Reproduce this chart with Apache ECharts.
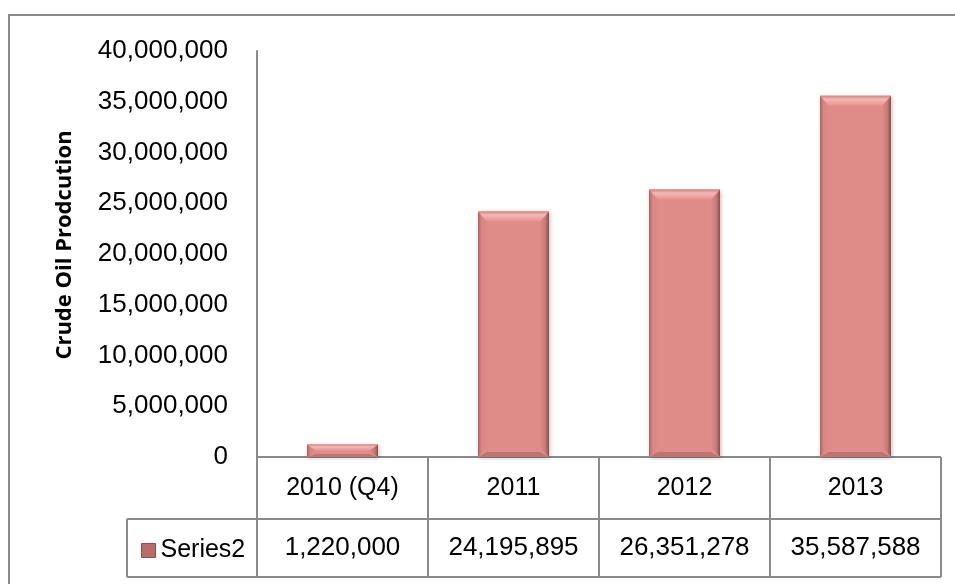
<!DOCTYPE html>
<html>
<head>
<meta charset="utf-8">
<script src="https://cdn.jsdelivr.net/npm/echarts@6/dist/echarts.min.js"></script>
<style>
  html, body { margin: 0; padding: 0; background: #fff; }
  #chart { width: 955px; height: 584px; }
</style>
</head>
<body>
<div id="chart"></div>
<script>
const categories = ['2010 (Q4)', '2011', '2012', '2013']
const production = [1220000, 24195895, 26351278, 35587588]
const seriesName = 'Series2'
const axisTitle = 'Crude Oil Prodcution'
const yTicks = { min: 0, max: 40000000, interval: 5000000 }

// layout (pixels)
const G = { left: 257, top: 51, width: 684, height: 406 }
const rowCat = 62
const rowVal = 58
const legendCellLeft = 127
const lineColor = '#8a8a8a'
const font = '"Liberation Sans", Arial, sans-serif'

function fmt(v) {
  return Math.round(v).toLocaleString('en-US')
}

const chart = echarts.init(document.getElementById('chart'), null, { renderer: 'canvas' })

function renderBar(params, api) {
  const idx = api.value(0)
  const top = api.coord([idx, api.value(1)])
  const base = api.coord([idx, 0])
  const w = api.size([1, 0])[0] * 0.415
  const x0 = top[0] - w / 2
  const x1 = x0 + w
  const y0 = top[1]
  const y1 = base[1]
  const h = y1 - y0
  const b = Math.min(10, h / 2)
  const s = Math.min(9, w / 4)
  return {
    type: 'group',
    children: [
      {
        type: 'rect',
        shape: { x: x0, y: y0, width: w, height: h },
        style: {
          fill: '#df8b88',
          shadowBlur: 4,
          shadowColor: 'rgba(0,0,0,0.25)',
          shadowOffsetX: 1,
          shadowOffsetY: 1
        }
      },
      {
        type: 'polygon',
        shape: { points: [[x0, y0], [x0 + s, y0 + b], [x0 + s, y1 - b], [x0, y1]] },
        style: {
          fill: new echarts.graphic.LinearGradient(0, 0, 1, 0, [
            { offset: 0, color: '#a86462' },
            { offset: 0.4, color: '#d98784' },
            { offset: 1, color: '#df8b88' }
          ])
        }
      },
      {
        type: 'polygon',
        shape: { points: [[x1, y0], [x1 - s, y0 + b], [x1 - s, y1 - b], [x1, y1]] },
        style: {
          fill: new echarts.graphic.LinearGradient(0, 0, 1, 0, [
            { offset: 0, color: '#df8b88' },
            { offset: 0.6, color: '#c77a77' },
            { offset: 1, color: '#8a4d4c' }
          ])
        }
      },
      {
        type: 'polygon',
        shape: { points: [[x0, y0], [x1, y0], [x1 - s, y0 + b], [x0 + s, y0 + b]] },
        style: {
          fill: new echarts.graphic.LinearGradient(0, 0, 0, 1, [
            { offset: 0, color: '#c98683' },
            { offset: 0.35, color: '#f4b8b4' },
            { offset: 1, color: '#e6938f' }
          ])
        }
      },
      {
        type: 'polygon',
        shape: { points: [[x0, y1], [x1, y1], [x1 - s, y1 - b / 2], [x0 + s, y1 - b / 2]] },
        style: { fill: 'rgba(140,70,68,0.35)' }
      }
    ]
  }
}

const tableBottom = G.top + G.height + rowCat + rowVal
const rowY = G.top + G.height + rowCat
const right = G.left + G.width
const colW = G.width / categories.length

const tableLines = []
// horizontal lines
tableLines.push([[G.left, G.top + G.height], [right, G.top + G.height]])
tableLines.push([[legendCellLeft, rowY], [right, rowY]])
tableLines.push([[legendCellLeft, tableBottom], [right, tableBottom]])
// vertical lines
for (let i = 0; i <= categories.length; i++) {
  const x = G.left + i * colW
  tableLines.push([[x, G.top + G.height], [x, tableBottom]])
}
tableLines.push([[legendCellLeft, rowY], [legendCellLeft, tableBottom]])

chart.setOption({
  animation: false,
  backgroundColor: '#fff',
  textStyle: { fontFamily: font, color: '#000' },
  grid: { left: G.left, top: G.top, width: G.width, height: G.height },
  legend: {
    left: legendCellLeft + 9,
    top: rowY + 14,
    icon: 'rect',
    itemWidth: 14,
    itemHeight: 14,
    itemGap: 4,
    textStyle: { fontSize: 25, fontFamily: font, color: '#000', padding: [2, 0, 0, 0] },
    data: [{ name: seriesName, itemStyle: { color: '#b86d6b', borderColor: '#8e4f4e', borderWidth: 1 } }]
  },
  xAxis: [
    {
      type: 'category',
      data: categories,
      axisLine: { show: false },
      axisTick: { show: false },
      axisLabel: { fontSize: 25, color: '#000', margin: rowCat / 2, verticalAlign: 'middle' }
    },
    {
      type: 'category',
      data: categories,
      position: 'bottom',
      axisLine: { show: false },
      axisTick: { show: false },
      axisLabel: {
        fontSize: 26,
        color: '#000',
        margin: rowCat + rowVal / 2,
        verticalAlign: 'middle',
        formatter: (v, i) => fmt(production[i])
      }
    }
  ],
  yAxis: {
    type: 'value',
    min: yTicks.min,
    max: yTicks.max,
    interval: yTicks.interval,
    name: axisTitle,
    nameLocation: 'middle',
    nameRotate: 90,
    nameGap: 181,
    nameTextStyle: {
      fontFamily: '"Open Sans", sans-serif',
      fontWeight: 'bold',
      fontSize: 22,
      color: '#000',
      padding: [0, 0, 0, 18]
    },
    axisLine: { show: true, lineStyle: { color: lineColor, width: 2 } },
    axisTick: { show: false },
    splitLine: { show: false },
    axisLabel: { fontSize: 26, color: '#000', margin: 29, formatter: v => fmt(v) }
  },
  series: [
    {
      name: seriesName,
      type: 'custom',
      itemStyle: { color: '#b86d6b' },
      renderItem: renderBar,
      encode: { x: 0, y: 1 },
      data: production.map((v, i) => [i, v])
    }
  ],
  graphic: [
    {
      type: 'rect',
      shape: { x: 9, y: 15, width: 980, height: 620 },
      style: { fill: 'none', stroke: lineColor, lineWidth: 2 },
      silent: true
    },
    ...tableLines.map(pts => ({
      type: 'polyline',
      shape: { points: pts },
      style: { stroke: lineColor, lineWidth: 2, fill: 'none' },
      silent: true
    }))
  ]
})
</script>
</body>
</html>
